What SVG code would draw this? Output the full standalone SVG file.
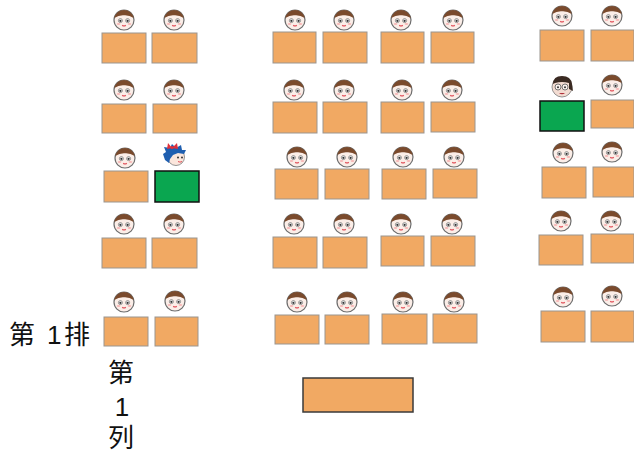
<svg xmlns="http://www.w3.org/2000/svg" xmlns:xlink="http://www.w3.org/1999/xlink" width="634" height="453" viewBox="0 0 634 453">
  <style>
    .desk { fill: #f1a963; stroke: #9a9590; stroke-width: 1; }
    .seat-mark { fill: #0aa650; stroke: #111; stroke-width: 1.5; }
    .teacher { fill: #f1a963; stroke: #3a3a3a; stroke-width: 1.5; }
    .label { font-family: "Liberation Sans", "Noto Sans CJK SC", sans-serif; font-size: 26px; fill: #111; }
  </style>
  <defs>
    <!-- generic pupil face, centred on (0,0) -->
    <g id="face">
      <circle r="10" fill="#fbeee8" stroke="#6d6d6d" stroke-width="1.2"/>
      <path d="M-9.8,-2 A10,10 0 0 1 9.8,-2 Q5,-5.2 0,-4.8 Q-5,-5.2 -9.8,-2 Z" fill="#7a4a2c"/>
      <circle cx="-3.6" cy="0.6" r="2" fill="#fff" stroke="#555" stroke-width="0.6"/>
      <circle cx="3.6" cy="0.6" r="2" fill="#fff" stroke="#555" stroke-width="0.6"/>
      <circle cx="-3.6" cy="0.8" r="1.1" fill="#333"/>
      <circle cx="3.6" cy="0.8" r="1.1" fill="#333"/>
      <ellipse cx="-5.5" cy="4" rx="1.8" ry="1" fill="#f7b8b8"/>
      <ellipse cx="5.5" cy="4" rx="1.8" ry="1" fill="#f7b8b8"/>
      <path d="M-1.8,5.2 Q0,6.6 1.8,5.2" fill="none" stroke="#e0505a" stroke-width="1.2"/>
    </g>
  </defs>

  <rect width="634" height="453" fill="#ffffff"/>

  <!-- left block: columns 1 and 2 -->
  <g id="seat-r1-c1"><use xlink:href="#face" x="124" y="20"/><rect class="desk" x="102" y="33" width="44" height="30"/></g>
  <g id="seat-r1-c2"><use xlink:href="#face" x="174" y="20"/><rect class="desk" x="152" y="33" width="45" height="30"/></g>
  <g id="seat-r2-c1"><use xlink:href="#face" x="124" y="90"/><rect class="desk" x="102" y="104" width="44" height="29"/></g>
  <g id="seat-r2-c2"><use xlink:href="#face" x="174" y="90"/><rect class="desk" x="153" y="104" width="44" height="29"/></g>
  <g id="seat-r3-c1"><use xlink:href="#face" x="125" y="158"/><rect class="desk" x="104" y="171" width="44" height="31"/></g>
  <g id="seat-r3-c2">
    <!-- girl with blue hair and red bow -->
    <g transform="translate(175,156)">
      <circle cx="1" cy="1" r="8.5" fill="#fbe6dc" stroke="#777" stroke-width="0.8"/>
      <path d="M-10,4 L-12,-2 L-9,-4 L-11,-9 L-5,-8 L-3,-12 L1,-8 L6,-11 L7,-6 L11,-6 L9,-2 L3,-3 L-2,-1 L-5,3 L-6,7 Z" fill="#1f5fb0"/>
      <path d="M-3,-8 L-7,-13 L-8,-7 Z M-3,-8 L2,-13 L3,-7 Z" fill="#e0303a"/>
      <circle cx="-3" cy="-8.5" r="1.6" fill="#e0303a"/>
      <circle cx="3" cy="1.5" r="1" fill="#333"/>
      <circle cx="7" cy="1.5" r="1" fill="#333"/>
      <path d="M3,5.5 Q5,6.8 7,5.5" fill="none" stroke="#e0505a" stroke-width="1"/>
    </g>
    <rect class="seat-mark" x="155" y="171" width="44" height="31"/>
  </g>
  <g id="seat-r4-c1"><use xlink:href="#face" x="124" y="224"/><rect class="desk" x="102" y="238" width="44" height="30"/></g>
  <g id="seat-r4-c2"><use xlink:href="#face" x="174" y="224"/><rect class="desk" x="152" y="238" width="45" height="30"/></g>
  <g id="seat-r5-c1"><use xlink:href="#face" x="124" y="302"/><rect class="desk" x="104" y="317" width="44" height="29"/></g>
  <g id="seat-r5-c2"><use xlink:href="#face" x="175" y="301"/><rect class="desk" x="155" y="317" width="43" height="29"/></g>

  <!-- middle block: columns 3 to 6 -->
  <g id="seat-r1-c3"><use xlink:href="#face" x="295" y="20"/><rect class="desk" x="273" y="32" width="43" height="31"/></g>
  <g id="seat-r1-c4"><use xlink:href="#face" x="344" y="20"/><rect class="desk" x="323" y="32" width="44" height="31"/></g>
  <g id="seat-r1-c5"><use xlink:href="#face" x="401" y="20"/><rect class="desk" x="381" y="32" width="43" height="31"/></g>
  <g id="seat-r1-c6"><use xlink:href="#face" x="453" y="20"/><rect class="desk" x="431" y="32" width="43" height="31"/></g>

  <g id="seat-r2-c3"><use xlink:href="#face" x="294" y="90"/><rect class="desk" x="273" y="102" width="44" height="31"/></g>
  <g id="seat-r2-c4"><use xlink:href="#face" x="344" y="90"/><rect class="desk" x="323" y="102" width="44" height="31"/></g>
  <g id="seat-r2-c5"><use xlink:href="#face" x="402" y="90"/><rect class="desk" x="381" y="102" width="43" height="31"/></g>
  <g id="seat-r2-c6"><use xlink:href="#face" x="452" y="90"/><rect class="desk" x="431" y="102" width="44" height="30"/></g>

  <g id="seat-r3-c3"><use xlink:href="#face" x="297" y="157"/><rect class="desk" x="275" y="169" width="43" height="30"/></g>
  <g id="seat-r3-c4"><use xlink:href="#face" x="347" y="157"/><rect class="desk" x="325" y="169" width="44" height="30"/></g>
  <g id="seat-r3-c5"><use xlink:href="#face" x="403" y="157"/><rect class="desk" x="382" y="169" width="44" height="30"/></g>
  <g id="seat-r3-c6"><use xlink:href="#face" x="454" y="157"/><rect class="desk" x="433" y="169" width="44" height="29"/></g>

  <g id="seat-r4-c3"><use xlink:href="#face" x="294" y="224"/><rect class="desk" x="273" y="237" width="44" height="31"/></g>
  <g id="seat-r4-c4"><use xlink:href="#face" x="344" y="224"/><rect class="desk" x="323" y="237" width="44" height="31"/></g>
  <g id="seat-r4-c5"><use xlink:href="#face" x="401" y="224"/><rect class="desk" x="381" y="236" width="43" height="30"/></g>
  <g id="seat-r4-c6"><use xlink:href="#face" x="452" y="224"/><rect class="desk" x="431" y="236" width="44" height="30"/></g>

  <g id="seat-r5-c3"><use xlink:href="#face" x="297" y="302"/><rect class="desk" x="275" y="315" width="44" height="29"/></g>
  <g id="seat-r5-c4"><use xlink:href="#face" x="347" y="302"/><rect class="desk" x="325" y="315" width="44" height="29"/></g>
  <g id="seat-r5-c5"><use xlink:href="#face" x="403" y="302"/><rect class="desk" x="382" y="314" width="45" height="30"/></g>
  <g id="seat-r5-c6"><use xlink:href="#face" x="454" y="302"/><rect class="desk" x="433" y="314" width="44" height="29"/></g>

  <!-- right block: columns 7 and 8 -->
  <g id="seat-r1-c7"><use xlink:href="#face" x="562" y="16"/><rect class="desk" x="540" y="30" width="44" height="31"/></g>
  <g id="seat-r1-c8"><use xlink:href="#face" x="612" y="16"/><rect class="desk" x="591" y="30" width="43" height="31"/></g>
  <g id="seat-r2-c7">
    <!-- boy with glasses -->
    <g transform="translate(562,87)">
      <circle r="10" fill="#f3dcd2" stroke="#777" stroke-width="0.8"/>
      <path d="M-9,-3 Q-9,-11 0,-11 Q9,-11 10,-3 L11,4 L7,2 L7,-4 Q0,-6 -7,-4 Z" fill="#3a2a22"/>
      <circle cx="-4" cy="0" r="3" fill="#fff" fill-opacity="0.6" stroke="#555" stroke-width="0.8"/>
      <circle cx="3" cy="0" r="3" fill="#fff" fill-opacity="0.6" stroke="#555" stroke-width="0.8"/>
      <circle cx="-4" cy="0.3" r="1" fill="#333"/>
      <circle cx="3" cy="0.3" r="1" fill="#333"/>
      <path d="M-3,6 Q0,8.5 3,6 Z" fill="#b0303a"/>
    </g>
    <rect class="seat-mark" x="540" y="101" width="44" height="30"/>
  </g>
  <g id="seat-r2-c8"><use xlink:href="#face" x="612" y="85"/><rect class="desk" x="591" y="100" width="43" height="28"/></g>
  <g id="seat-r3-c7"><use xlink:href="#face" x="563" y="153"/><rect class="desk" x="542" y="167" width="44" height="31"/></g>
  <g id="seat-r3-c8"><use xlink:href="#face" x="612" y="152"/><rect class="desk" x="593" y="167" width="41" height="30"/></g>
  <g id="seat-r4-c7"><use xlink:href="#face" x="561" y="221"/><rect class="desk" x="539" y="235" width="44" height="30"/></g>
  <g id="seat-r4-c8"><use xlink:href="#face" x="611" y="221"/><rect class="desk" x="591" y="234" width="43" height="29"/></g>
  <g id="seat-r5-c7"><use xlink:href="#face" x="563" y="297"/><rect class="desk" x="541" y="311" width="44" height="31"/></g>
  <g id="seat-r5-c8"><use xlink:href="#face" x="612" y="296"/><rect class="desk" x="591" y="311" width="43" height="31"/></g>

  <!-- teacher's desk -->
  <g id="teacher-desk"><rect class="teacher" x="303" y="378" width="110" height="34"/></g>

  <!-- row and column labels -->
  <g id="row-label">
    <text class="label" x="9" y="344">第</text>
    <text class="label" x="47" y="344">1</text>
    <text class="label" x="64" y="344">排</text>
  </g>
  <g id="column-label">
    <text class="label" x="121" y="382" text-anchor="middle">第</text>
    <text class="label" x="122" y="416" font-size="24" text-anchor="middle">1</text>
    <text class="label" x="121" y="447" text-anchor="middle">列</text>
  </g>
</svg>
